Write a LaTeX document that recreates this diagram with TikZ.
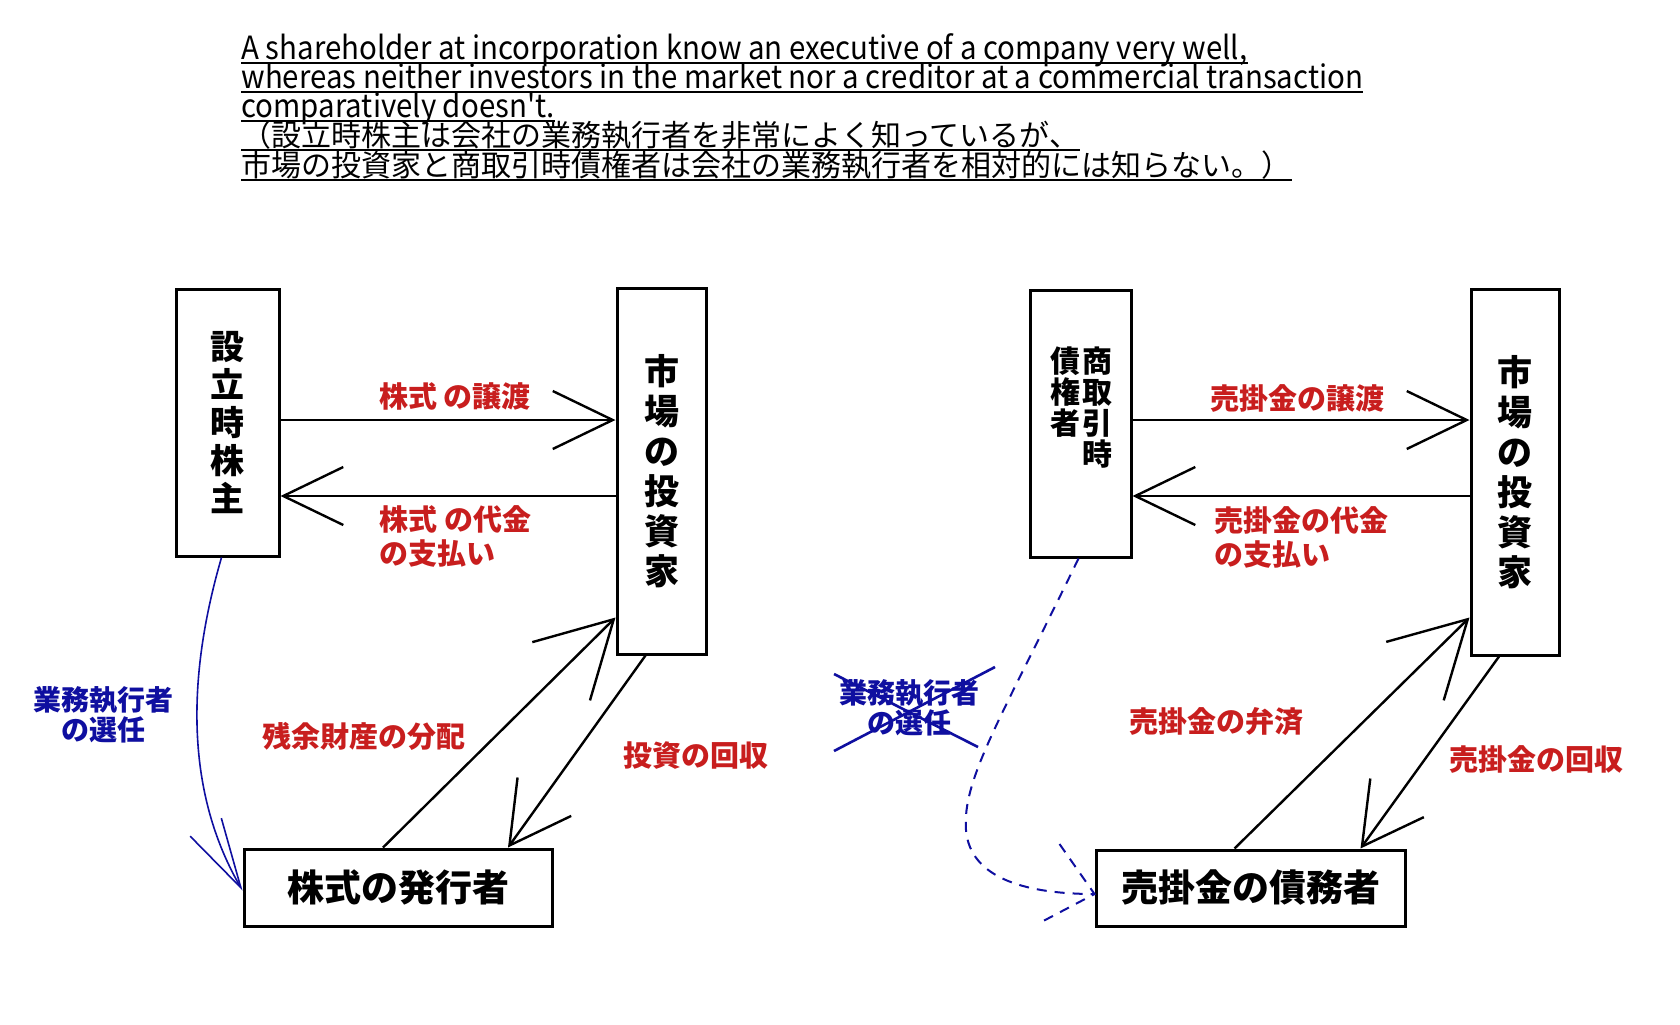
\documentclass[tikz,border=0pt]{standalone}
\usepackage{fontspec}
\setmainfont{Noto Sans CJK JP}
\newfontfamily\titlefont{Noto Sans CJK JP}[FakeStretch=0.92]
\usetikzlibrary{arrows.meta,calc}
\definecolor{labelred}{RGB}{200,30,30}
\definecolor{selblue}{RGB}{15,15,160}

\begin{document}
\begin{tikzpicture}[x=0.5pt, y=-0.5pt,
    box/.style={draw, line width=1.5pt, inner sep=0, align=center, font=\bfseries\fontsize{17}{19}\selectfont},
    coltext/.style={inner sep=0, align=center, font=\bfseries\fontsize{15}{15.5}\selectfont},
    ttl/.style={inner sep=0, anchor=base west, font=\titlefont\fontsize{16}{16}\selectfont},
    lbl/.style={inner sep=0, text=labelred, font=\bfseries\fontsize{14.5}{17}\selectfont},
    sel/.style={inner sep=0, align=center, text=selblue, font=\bfseries\fontsize{14}{15}\selectfont},
    arr/.style={line width=1.2pt, -{Straight Barb[length=30pt,width=29pt]}},
    uparr/.style={line width=1.2pt, -{Straight Barb[length=37pt,width=41pt]}},
    dnarr/.style={line width=1.2pt, -{Straight Barb[length=30pt,width=33pt]}},
    selarr/.style={selblue, line width=0.8pt, -{Straight Barb[length=35pt,width=18pt]}},
    seldash/.style={selblue, line width=1pt, dash pattern=on 5pt off 4pt}]

    \fill[white] (0,0) rectangle (1680,1024);
    \useasboundingbox (0,0) rectangle (1680,1024);

    % title, underlined
    \node[ttl] (t1) at (241,59) {A shareholder at incorporation know an executive of a company very well,};
    \node[ttl] (t2) at (241,88) {whereas neither investors in the market nor a creditor at a commercial transaction};
    \node[ttl] (t3) at (241,117) {comparatively doesn't.};
    \node[ttl, font=\fontsize{15}{16}\selectfont] (t4) at (241,146) {（設立時株主は会社の業務執行者を非常によく知っているが、};
    \node[ttl, font=\fontsize{15}{16}\selectfont] (t5) at (241,176) {市場の投資家と商取引時債権者は会社の業務執行者を相対的には知らない。）};
    \foreach \t in {t1,t2,t3,t4,t5}
        \draw[line width=1pt] ([yshift=-2pt]\t.base west) -- ([yshift=-2pt]\t.base east);

    \coordinate (upper) at (0,420);
    \coordinate (lower) at (0,496);

    % left: shareholder, market, issuer
    \node[box, minimum width=51.5pt, minimum height=133.5pt] (founder) at (227.5,422.5) {設\\立\\時\\株\\主};
    \node[box, minimum width=44.5pt, minimum height=183pt, font=\bfseries\fontsize{17.5}{20}\selectfont] (market1) at (661.5,471) {市\\場\\の\\投\\資\\家};
    \node[box, minimum width=154pt, minimum height=38.5pt, font=\bfseries\fontsize{18.5}{20}\selectfont] (issuer) at (398,887.5) {株式の発行者};

    % left: transfer and payment
    \draw[arr] (founder.east |- upper) -- (market1.west |- upper);
    \node[lbl] (transfer1) at (455,396) {株式 の譲渡};
    \draw[arr] (market1.west |- lower) -- (founder.east |- lower);
    \node[lbl, align=left, anchor=west] (payment1) at (379,536) {株式 の代金\\の支払い};

    % left: issuer and market
    \draw[uparr] ([xshift=-7.5pt]issuer.north) -- ([yshift=19pt]market1.south west);
    \node[lbl] (residual) at (364,736) {残余財産の分配};
    \draw[dnarr] ([xshift=-8pt]market1.south) -- ([xshift=55pt]issuer.north);
    \node[lbl] (recovery1) at (696,756) {投資の回収};

    % left: appointment
    \draw[selarr] ([xshift=-3pt]founder.south) .. controls (183,690) and (190,800) .. ([yshift=-1.5pt]issuer.west);
    \node[sel] (appoint1) at (103,715) {業務執行者\\の選任};

    % right: creditor, market, debtor
    \node[box, minimum width=50.5pt, minimum height=133.5pt] (creditor) at (1080.5,423.5) {};
    \node[coltext, anchor=north] (credcolR) at (1097,346) {商\\取\\引\\時};
    \node[coltext, anchor=north] (credcolL) at (1065,346) {債\\権\\者};
    \node[box, minimum width=44pt, minimum height=183pt, font=\bfseries\fontsize{17.5}{20}\selectfont] (market2) at (1515,472) {市\\場\\の\\投\\資\\家};
    \node[box, minimum width=154.5pt, minimum height=38pt, font=\bfseries\fontsize{18.5}{20}\selectfont] (debtor) at (1250.5,888) {売掛金の債務者};

    % right: transfer and payment
    \draw[arr] (creditor.east |- upper) -- (market2.west |- upper);
    \node[lbl] (transfer2) at (1297,398) {売掛金の譲渡};
    \draw[arr] (market2.west |- lower) -- (creditor.east |- lower);
    \node[lbl, align=left, anchor=west] (payment2) at (1214,537) {売掛金の代金\\の支払い};

    % right: debtor and market
    \draw[uparr] ([xshift=-8pt]debtor.north) -- ([yshift=19.5pt]market2.south west);
    \node[lbl] (repay) at (1216,722) {売掛金の弁済};
    \draw[dnarr] ([xshift=-8pt]market2.south) -- ([xshift=55pt]debtor.north);
    \node[lbl] (recovery2) at (1536,759) {売掛金の回収};

    % right: no appointment (crossed out)
    \coordinate (seltip) at ([yshift=-3pt]debtor.west);
    \draw[seldash] ([xshift=-1pt]creditor.south) .. controls (1000,720) and (962,780) .. (966,830)
        .. controls (970,880) and (1030,894) .. (seltip);
    \draw[seldash] ($(seltip)+(-35,-50)$) -- (seltip) -- ($(seltip)+(-57,30)$);
    \node[sel] (appoint2) at (909,708) {業務執行者\\の選任};
    \draw[selblue, line width=1.3pt] (834,674) -- (978,747);
    \draw[selblue, line width=1.3pt] (834,751) -- (995,667);
\end{tikzpicture}
\end{document}
